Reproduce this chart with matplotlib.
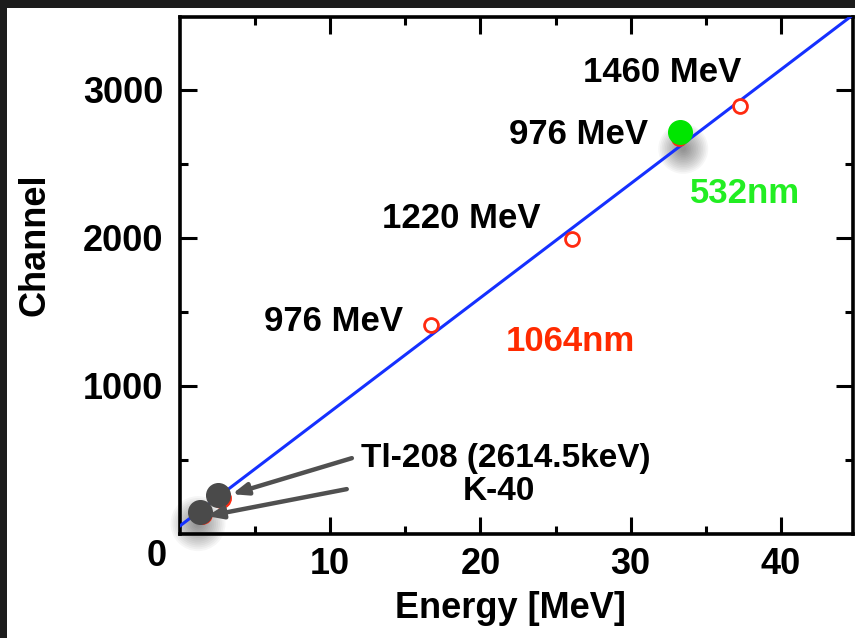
import matplotlib
matplotlib.use("Agg")
import matplotlib.pyplot as plt
from matplotlib.patches import Rectangle
import numpy as np

# ---- data ----
red_energy = [16.7, 26.1, 33.2, 37.3]
red_channel = [1410, 1990, 2670, 2890]
green_energy = [33.3]
green_channel = [2715]
gray_energy = [1.3, 2.55]
gray_channel = [150, 262]
gray_red_energy = [1.45, 2.7]
gray_red_channel = [132, 246]
fit_intercept = 55.0
fit_slope = 77.0
x_ticks_major = [10, 20, 30, 40]
y_ticks_major = [1000, 2000, 3000]

labels = ["1460 MeV", "976 MeV", "1220 MeV", "976 MeV"]
label_pos = [(32.1, 3118), (26.5, 2700), (18.7, 2128), (10.2, 1434)]

BOLD = "Liberation Sans"

fig = plt.figure(figsize=(8.55, 6.38), dpi=100)
fig.patch.set_facecolor("white")
W, H = 855, 638
# dark frame strips (left and top)
fig.patches.append(Rectangle((0, 0), 7 / W, 1, transform=fig.transFigure,
                             facecolor="#1c1c1c", edgecolor="none", zorder=0))
fig.patches.append(Rectangle((0, 1 - 8 / H), 1, 8 / H, transform=fig.transFigure,
                             facecolor="#1c1c1c", edgecolor="none", zorder=0))

ax = fig.add_axes([180 / W, 1 - 534 / H, (853 - 180) / W, (534 - 17) / H])
ax.set_xlim(0, 44.8)
ax.set_ylim(0, 3490)

# fit line
xl = np.array([0, 44.8])
ax.plot(xl, fit_intercept + fit_slope * xl, color="#1530ff", lw=2.2, zorder=3)

# soft shadows (many faint layers)
radii = np.linspace(36, 4, 14)
for r in radii:
    ax.scatter([33.5], [2600], s=r ** 2, color="black", alpha=0.035,
               edgecolors="none", zorder=2)
    ax.scatter([1.2], [70], s=(r * 1.1) ** 2, color="black", alpha=0.035,
               edgecolors="none", zorder=2, clip_on=False)

# red points
ax.plot(red_energy, red_channel, "o", mfc="white", mec="#ff2a10", mew=2.0,
        ms=10, zorder=4)
ax.plot(gray_red_energy, gray_red_channel, "o", color="#ff2a10", ms=14,
        zorder=4, clip_on=False)
# green point
ax.plot(green_energy, green_channel, "o", color="#00e600", ms=17, zorder=5)
# gray points
ax.plot(gray_energy, gray_channel, "o", color="#4a4a4a", ms=17, zorder=6,
        clip_on=False)

# text labels
for t, (x, y) in zip(labels, label_pos):
    ax.text(x, y, t, fontsize=25, fontweight="bold", family=BOLD,
            ha="center", va="center", zorder=7)
ax.text(37.6, 2296, "532nm", fontsize=25, fontweight="bold", family=BOLD,
        color="#22ee22", ha="center", va="center")
ax.text(26.0, 1300, "1064nm", fontsize=25, fontweight="bold", family=BOLD,
        color="#ff2a00", ha="center", va="center")
ax.text(21.7, 512, "Tl-208 (2614.5keV)", fontsize=24, fontweight="bold",
        family=BOLD, ha="center", va="center")
ax.text(21.2, 290, "K-40", fontsize=24, fontweight="bold", family=BOLD,
        ha="center", va="center")

# arrows
ap = dict(arrowstyle="-|>,head_length=0.9,head_width=0.35", lw=3.2,
          color="#505050", shrinkA=0, shrinkB=0)
ax.annotate("", xy=(3.46, 269), xytext=(11.44, 512), arrowprops=ap, zorder=8)
ax.annotate("", xy=(1.8, 121), xytext=(11.1, 303), arrowprops=ap, zorder=8)

# axes styling
for s in ax.spines.values():
    s.set_linewidth(2.6)
ax.set_xticks(x_ticks_major)
ax.set_xticks([5, 15, 25, 35], minor=True)
ax.set_yticks(y_ticks_major)
ax.set_yticks([500, 1500, 2500], minor=True)
ax.tick_params(which="both", direction="in", top=True, right=True, width=2.2)
ax.tick_params(which="major", length=12)
ax.tick_params(which="minor", length=6)
ax.tick_params(axis="x", pad=9)
ax.tick_params(axis="y", pad=12)
for lab in ax.get_xticklabels() + ax.get_yticklabels():
    lab.set_fontsize(26)
    lab.set_fontweight("bold")
    lab.set_family(BOLD)

ax.text(157 / W, 1 - 557 / H, "0", transform=fig.transFigure, fontsize=26,
        fontweight="bold", family=BOLD, ha="center", va="center")

fig.text(510 / W, 1 - 608 / H, "Energy [MeV]", fontsize=26, fontweight="bold",
         family=BOLD, ha="center", va="center")
fig.text(35 / W, 1 - 245 / H, "Channel", fontsize=26, fontweight="bold",
         family=BOLD, ha="center", va="center", rotation=90)

fig.savefig("out.png", dpi=100)
